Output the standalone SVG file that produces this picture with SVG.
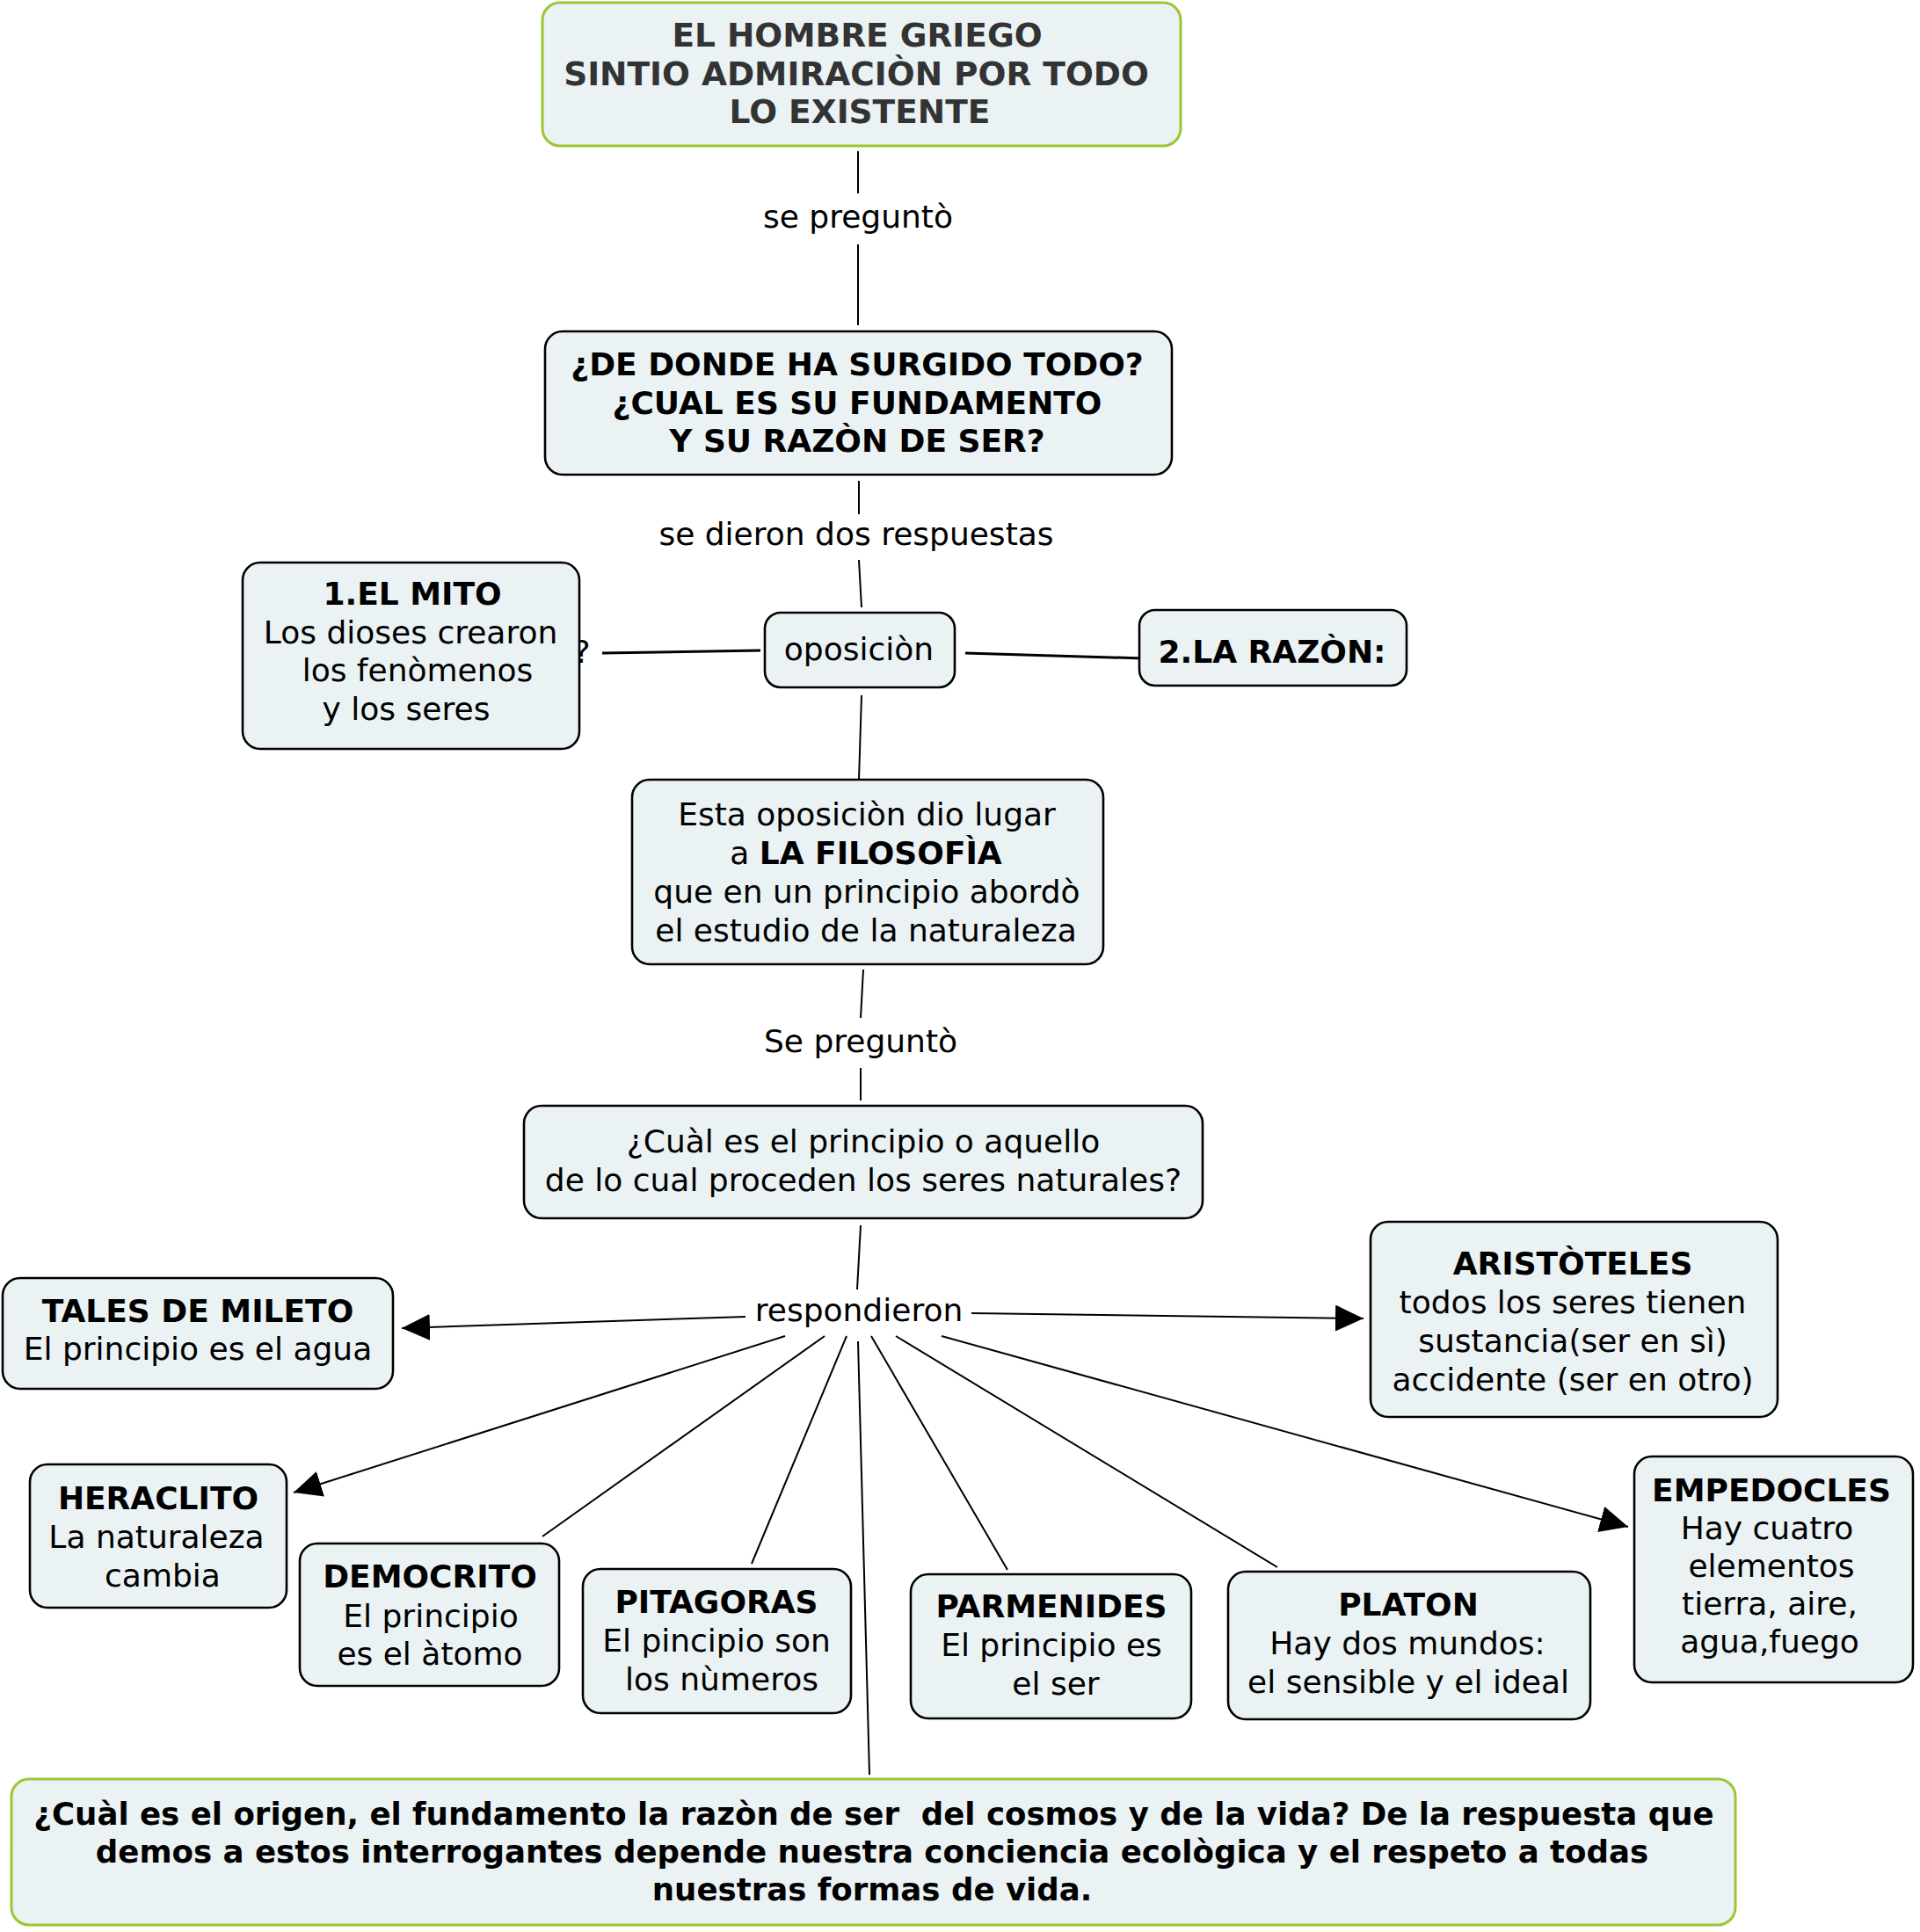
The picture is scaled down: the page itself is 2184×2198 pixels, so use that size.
<svg xmlns="http://www.w3.org/2000/svg" width="2184" height="2198" viewBox="0 0 2184 2198">
<defs>
<marker id="arr" markerUnits="userSpaceOnUse" markerWidth="34" markerHeight="32" refX="32" refY="15" orient="auto">
<path d="M0,0 L32,15 L0,30 z" fill="#000"/>
</marker>
<style>
.box{fill:#ebf2f4;stroke:#000;stroke-width:2.6}
.gbox{fill:#ebf2f4;stroke:#9cc532;stroke-width:3}
text{font-family:"DejaVu Sans","Liberation Sans",sans-serif;font-size:36px;fill:#000;text-anchor:middle}
.b{font-weight:bold}
.top{fill:#333;font-size:37.5px}
.concl{font-size:35.6px}
.ln{stroke:#000;stroke-width:2;fill:none}
.lnt{stroke:#000;stroke-width:3;fill:none}
</style>
</defs>
<rect width="2184" height="2198" fill="#fff"/>

<g id="connectors">
<line class="ln" x1="976" y1="172" x2="976" y2="220"/>
<line class="ln" x1="976" y1="278" x2="976" y2="370"/>
<line class="ln" x1="977" y1="547" x2="977" y2="585"/>
<line class="ln" x1="977" y1="637" x2="980" y2="691"/>
<line class="lnt" x1="685" y1="743" x2="865" y2="740"/>
<line class="lnt" x1="1098" y1="743" x2="1300" y2="749"/>
<line class="ln" x1="980" y1="791" x2="977" y2="887"/>
<line class="ln" x1="982" y1="1103" x2="979" y2="1158"/>
<line class="ln" x1="979" y1="1215" x2="979" y2="1252"/>
<line class="ln" x1="979" y1="1394" x2="975" y2="1467"/>
<line class="ln" x1="848" y1="1498" x2="457" y2="1511" marker-end="url(#arr)"/>
<line class="ln" x1="893" y1="1520" x2="334" y2="1698" marker-end="url(#arr)"/>
<line class="ln" x1="938" y1="1520" x2="617" y2="1748"/>
<line class="ln" x1="963" y1="1520" x2="855" y2="1779"/>
<line class="ln" x1="976" y1="1526" x2="989" y2="2019"/>
<line class="ln" x1="991" y1="1520" x2="1146" y2="1786"/>
<line class="ln" x1="1019" y1="1520" x2="1453" y2="1783"/>
<line class="ln" x1="1071" y1="1520" x2="1852" y2="1737" marker-end="url(#arr)"/>
<line class="ln" x1="1105" y1="1494" x2="1551" y2="1500" marker-end="url(#arr)"/>
<text x="976" y="259">se preguntò</text>
<text x="974" y="620">se dieron dos respuestas</text>
<text x="662" y="754">?</text>
<text x="979" y="1197">Se preguntò</text>
<text x="977" y="1503">respondieron</text>
</g>

<g id="n-hombre">
<rect class="gbox" x="617" y="3" width="726" height="163" rx="20"/>
<text class="b top" x="975" y="53">EL HOMBRE GRIEGO</text>
<text class="b top" x="974" y="97">SINTIO ADMIRACIÒN POR TODO</text>
<text class="b top" x="978" y="140">LO EXISTENTE</text>
</g>

<g id="n-pregunta">
<rect class="box" x="620" y="377" width="713" height="163" rx="20"/>
<text class="b" x="975" y="427">¿DE DONDE HA SURGIDO TODO?</text>
<text class="b" x="975" y="471">¿CUAL ES SU FUNDAMENTO</text>
<text class="b" x="975" y="514">Y SU RAZÒN DE SER?</text>
</g>

<g id="n-mito">
<rect class="box" x="276" y="640" width="383" height="212" rx="20"/>
<text class="b" x="469" y="688">1.EL MITO</text>
<text x="467" y="732">Los dioses crearon</text>
<text x="475" y="775">los fenòmenos</text>
<text x="462" y="819">y los seres</text>
</g>

<g id="n-oposicion">
<rect class="box" x="870" y="697" width="216" height="85" rx="18"/>
<text x="977" y="751">oposiciòn</text>
</g>

<g id="n-razon">
<rect class="box" x="1296" y="694" width="304" height="86" rx="18"/>
<text class="b" x="1447" y="754">2.LA RAZÒN:</text>
</g>

<g id="n-filosofia">
<rect class="box" x="719" y="887" width="536" height="210" rx="20"/>
<text x="986" y="939">Esta oposiciòn dio lugar</text>
<text x="985" y="983">a <tspan class="b">LA FILOSOFÌA</tspan></text>
<text x="986" y="1027">que en un principio abordò</text>
<text x="985" y="1071">el estudio de la naturaleza</text>
</g>

<g id="n-principio">
<rect class="box" x="596" y="1258" width="772" height="128" rx="20"/>
<text x="982" y="1311">¿Cuàl es el principio o aquello</text>
<text x="982" y="1355">de lo cual proceden los seres naturales?</text>
</g>

<g id="n-tales">
<rect class="box" x="3" y="1454" width="444" height="126" rx="20"/>
<text class="b" x="225" y="1504">TALES DE MILETO</text>
<text x="225" y="1547">El principio es el agua</text>
</g>

<g id="n-aristoteles">
<rect class="box" x="1559" y="1390" width="463" height="222" rx="20"/>
<text class="b" x="1789" y="1450">ARISTÒTELES</text>
<text x="1789" y="1494">todos los seres tienen</text>
<text x="1789" y="1538">sustancia(ser en sì)</text>
<text x="1789" y="1582">accidente (ser en otro)</text>
</g>

<g id="n-heraclito">
<rect class="box" x="34" y="1666" width="292" height="163" rx="20"/>
<text class="b" x="180" y="1717">HERACLITO</text>
<text x="178" y="1761">La naturaleza</text>
<text x="185" y="1805">cambia</text>
</g>

<g id="n-democrito">
<rect class="box" x="341" y="1756" width="295" height="162" rx="20"/>
<text class="b" x="489" y="1806">DEMOCRITO</text>
<text x="490" y="1851">El principio</text>
<text x="489" y="1894">es el àtomo</text>
</g>

<g id="n-pitagoras">
<rect class="box" x="663" y="1785" width="305" height="164" rx="20"/>
<text class="b" x="815" y="1835">PITAGORAS</text>
<text x="815" y="1879">El pincipio son</text>
<text x="821" y="1923">los nùmeros</text>
</g>

<g id="n-parmenides">
<rect class="box" x="1036" y="1791" width="319" height="164" rx="20"/>
<text class="b" x="1196" y="1840">PARMENIDES</text>
<text x="1196" y="1884">El principio es</text>
<text x="1201" y="1928">el ser</text>
</g>

<g id="n-platon">
<rect class="box" x="1397" y="1788" width="412" height="168" rx="20"/>
<text class="b" x="1602" y="1838">PLATON</text>
<text x="1601" y="1882">Hay dos mundos:</text>
<text x="1602" y="1926">el sensible y el ideal</text>
</g>

<g id="n-empedocles">
<rect class="box" x="1859" y="1657" width="317" height="257" rx="20"/>
<text class="b" x="2015" y="1708">EMPEDOCLES</text>
<text x="2010" y="1751">Hay cuatro</text>
<text x="2015" y="1794">elementos</text>
<text x="2013" y="1837">tierra, aire,</text>
<text x="2013" y="1880">agua,fuego</text>
</g>

<g id="n-conclusion">
<rect class="gbox" x="13" y="2024" width="1961" height="166" rx="20"/>
<text class="b concl" x="994" y="2076" xml:space="preserve">¿Cuàl es el origen, el fundamento la razòn de ser  del cosmos y de la vida? De la respuesta que</text>
<text class="b concl" x="992" y="2119">demos a estos interrogantes depende nuestra conciencia ecològica y el respeto a todas</text>
<text class="b concl" x="992" y="2162">nuestras formas de vida.</text>
</g>
</svg>
